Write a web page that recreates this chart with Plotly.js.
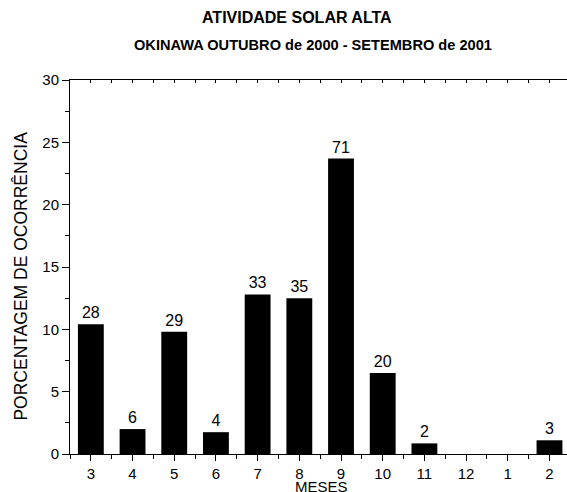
<!DOCTYPE html>
<html>
<head>
<meta charset="utf-8">
<script src="https://cdn.plot.ly/plotly-3.0.1.min.js"></script>
<style>
html,body{margin:0;padding:0;overflow:hidden;background:#fff;}
#chart{width:567px;height:492px;}
</style>
</head>
<body>
<div id="chart"></div>
<script>
// Data
var months = ['3','4','5','6','7','8','9','10','11','12','1','2'];
var percentages = [10.4, 2.0, 9.8, 1.75, 12.8, 12.5, 23.7, 6.5, 0.85, 0, 0, 1.1];
var counts = ['28','6','29','4','33','35','71','20','2','','','3'];

var titleLine1 = 'ATIVIDADE SOLAR ALTA';
var titleLine2 = 'OKINAWA OUTUBRO de 2000 - SETEMBRO de 2001';
var xTitle = 'MESES';
var yTitle = 'PORCENTAGEM DE OCORRÊNCIA';

var FONT = 'Arial, "Liberation Sans", sans-serif';
var xRange = [-0.5, 11.42];

var traces = [
  {
    type: 'bar',
    x: months,
    y: percentages,
    text: counts,
    textposition: 'outside',
    cliponaxis: false,
    textfont: {family: FONT, size: 16, color: '#000'},
    marker: {color: '#000', line: {width: 0}},
    width: 0.62,
    hoverinfo: 'none'
  },
  {type: 'scatter', x: [], y: [], xaxis: 'x2', yaxis: 'y', showlegend: false},
  {type: 'scatter', x: [], y: [], xaxis: 'x3', yaxis: 'y', showlegend: false}
];

var layout = {
  width: 567,
  height: 492,
  margin: {l: 70, r: 0, t: 80, b: 38},
  paper_bgcolor: '#fff',
  plot_bgcolor: '#fff',
  showlegend: false,
  font: {family: FONT, color: '#000'},
  bargap: 0.38,
  xaxis: {
    type: 'category',
    range: xRange,
    showgrid: false,
    zeroline: false,
    showline: true,
    linecolor: '#000',
    linewidth: 1,
    ticks: 'outside',
    ticklen: 6,
    tickwidth: 1,
    tickcolor: '#000',
    tickfont: {family: FONT, size: 15, color: '#000'},
    fixedrange: true
  },
  xaxis2: {
    overlaying: 'x',
    anchor: 'y',
    side: 'bottom',
    type: 'linear',
    range: xRange,
    tickmode: 'linear',
    tick0: -0.5,
    dtick: 1,
    ticks: 'outside',
    ticklen: 4,
    tickwidth: 1,
    tickcolor: '#000',
    showticklabels: false,
    showgrid: false,
    zeroline: false,
    showline: false
  },
  xaxis3: {
    overlaying: 'x',
    anchor: 'y',
    side: 'top',
    type: 'linear',
    range: xRange,
    tickmode: 'linear',
    tick0: 0,
    dtick: 0.5,
    ticks: 'inside',
    ticklen: 3,
    tickwidth: 1,
    tickcolor: '#000',
    showticklabels: false,
    showgrid: false,
    zeroline: false,
    showline: true,
    linecolor: '#000',
    linewidth: 1
  },
  yaxis: {
    range: [0, 30],
    tickmode: 'linear',
    tick0: 0,
    dtick: 5,
    showgrid: false,
    zeroline: false,
    showline: true,
    linecolor: '#000',
    linewidth: 1,
    ticks: 'outside',
    ticklen: 7,
    tickwidth: 1,
    tickcolor: '#000',
    tickfont: {family: FONT, size: 15, color: '#000'},
    minor: {tickmode: 'linear', tick0: 0, dtick: 2.5, ticks: 'outside', ticklen: 4, tickcolor: '#000', showgrid: false},
    fixedrange: true
  },
  annotations: [
    {text: '<b>' + titleLine1 + '</b>', xref: 'paper', yref: 'paper', x: 0.457, y: 1.168,
     xanchor: 'center', yanchor: 'middle', showarrow: false, font: {family: FONT, size: 16, color: '#000'}},
    {text: '<b>' + titleLine2 + '</b>', xref: 'paper', yref: 'paper', x: 0.489, y: 1.094,
     xanchor: 'center', yanchor: 'middle', showarrow: false, font: {family: FONT, size: 14.6, color: '#000'}},
    {text: yTitle, xref: 'paper', yref: 'paper', x: -0.0986, y: 0.477, textangle: -90,
     xanchor: 'center', yanchor: 'middle', showarrow: false, font: {family: FONT, size: 17.5, color: '#000'}},
    {text: xTitle, xref: 'paper', yref: 'paper', x: 0.507, y: -0.0575,
     xanchor: 'center', yanchor: 'top', showarrow: false, font: {family: FONT, size: 15, color: '#000'}}
  ]
};

Plotly.newPlot('chart', traces, layout, {staticPlot: true, displayModeBar: false});
</script>
</body>
</html>
